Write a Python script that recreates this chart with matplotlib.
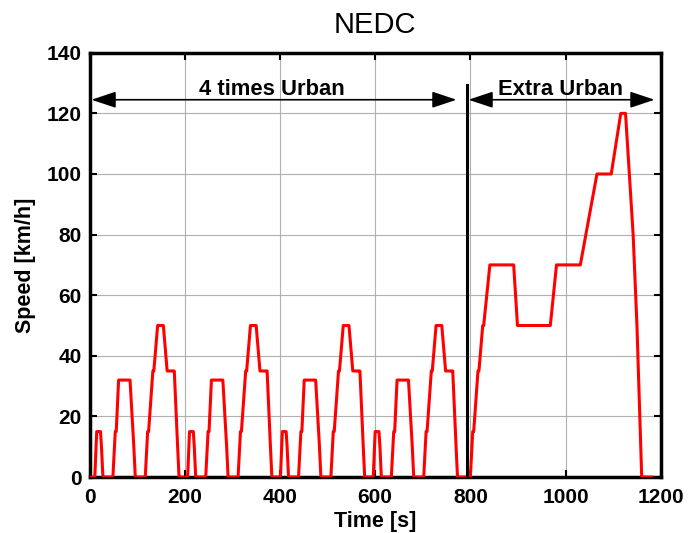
import matplotlib.pyplot as plt

# ECE-15 urban cycle breakpoints (time [s], speed [km/h]), repeated 4 times
urban_t = [0, 11, 15, 23, 25, 28, 49, 54, 56, 61, 85, 93, 96, 117, 122, 124,
           133, 135, 143, 155, 163, 176, 178, 185, 188, 195]
urban_v = [0, 0, 15, 15, 10, 0, 0, 15, 15, 32, 32, 10, 0, 0, 15, 15,
           35, 35, 50, 50, 35, 35, 35, 10, 0, 0]
urban_repeats = 4
urban_length = 195

# Extra urban cycle breakpoints, starting after the urban part
eudc_t = [0, 20, 25, 27, 36, 38, 46, 48, 61, 111, 119, 188, 201, 251, 286,
          316, 336, 346, 362, 370, 380, 400]
eudc_v = [0, 0, 15, 15, 35, 35, 50, 50, 70, 70, 50, 50, 70, 70, 100,
          100, 120, 120, 80, 50, 0, 0]


def main():
    plt.rcParams['font.family'] = ['Liberation Sans', 'DejaVu Sans']

    time = []
    speed = []
    for k in range(urban_repeats):
        time += [t + k * urban_length for t in urban_t]
        speed += urban_v
    split = urban_repeats * urban_length
    time += [t + split for t in eudc_t]
    speed += eudc_v

    fig = plt.figure(figsize=(6.89, 5.33), dpi=100)
    ax = fig.add_axes([0.130, 0.105, 0.829, 0.796])

    ax.plot(time, speed, color='red', linewidth=2.2, zorder=3)

    # split marker and annotation arrows
    line_x = 792
    ax.plot([line_x, line_x], [0, 129.4], color='black', linewidth=2.2, zorder=4)
    arrow = dict(arrowstyle='<|-|>,head_length=0.75,head_width=0.25',
                 color='black', lw=1.2, mutation_scale=20, shrinkA=0, shrinkB=0)
    ax.annotate('', xy=(4, 124.5), xytext=(771, 124.5), arrowprops=arrow)
    ax.annotate('', xy=(line_x + 4, 124.5), xytext=(1187, 124.5), arrowprops=arrow)
    ax.text(383, 125.9, '4 times Urban', ha='center', va='baseline',
            fontsize=15.8, fontweight='bold')
    ax.text(989, 125.9, 'Extra Urban', ha='center', va='baseline',
            fontsize=15.8, fontweight='bold')

    ax.set_xlim(0, 1200)
    ax.set_ylim(0, 140)
    ax.set_xticks(range(0, 1201, 200))
    ax.set_yticks(range(0, 141, 20))
    ax.grid(True, color='#b0b0b0', linewidth=0.8)
    ax.set_axisbelow(True)
    ax.tick_params(direction='in', top=True, right=True, length=5, width=1.5,
                   labelsize=15)
    ax.tick_params(axis='x', pad=8)
    ax.tick_params(axis='y', pad=5.5)
    for lab in ax.get_xticklabels() + ax.get_yticklabels():
        lab.set_fontweight('bold')
    for sp in ax.spines.values():
        sp.set_linewidth(2.5)

    ax.set_xlabel('Time [s]', fontsize=15.5, fontweight='bold', labelpad=3)
    ax.set_ylabel('Speed [km/h]', fontsize=15.5, fontweight='bold', labelpad=8)
    ax.set_title('NEDC', fontsize=21, pad=14)

    fig.savefig('out.png', dpi=100)


if __name__ == "__main__":
    main()
